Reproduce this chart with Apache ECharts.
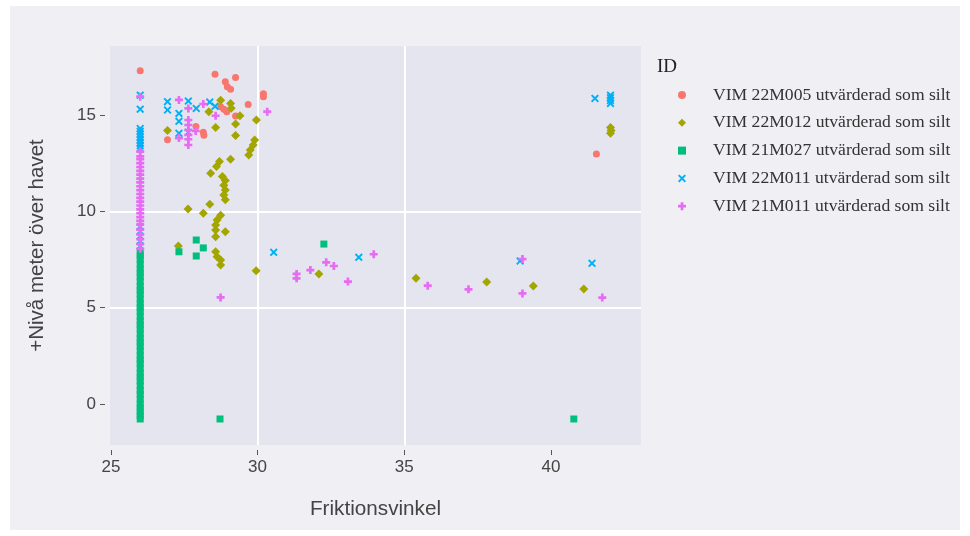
<!DOCTYPE html>
<html><head><meta charset="utf-8">
<script src="https://cdn.jsdelivr.net/npm/echarts@6/dist/echarts.min.js"></script>
<style>html,body{margin:0;padding:0;background:#fff}#c{width:970px;height:536px}</style>
</head><body><div id="c"></div>
<script>
const seriesNames = [
  'VIM 22M005 utvärderad som silt',
  'VIM 22M012 utvärderad som silt',
  'VIM 21M027 utvärderad som silt',
  'VIM 22M011 utvärderad som silt',
  'VIM 21M011 utvärderad som silt'
];
const xTicks = [25, 30, 35, 40];
const yTicks = [0, 5, 10, 15];

const data22M005 = [
  [26.0,17.3],[28.55,17.12],[28.9,16.72],[28.97,16.47],[29.08,16.33],[29.25,16.95],
  [30.2,16.1],[30.2,15.95],[29.68,15.55],[28.74,15.43],[28.85,15.3],[28.95,15.17],
  [29.25,14.95],[27.9,14.4],[28.15,14.1],[28.17,13.95],[26.93,13.72],[41.55,12.97]
];
const data22M012 = [
  [28.74,15.77],[29.08,15.6],[29.1,15.35],[28.34,15.17],[29.4,14.96],[29.96,14.74],
  [29.25,14.53],[28.57,14.35],[29.25,13.93],[26.93,14.2],[29.9,13.7],[29.85,13.44],
  [29.75,13.18],[29.7,12.92],[29.08,12.7],[28.7,12.58],[28.6,12.32],[28.4,11.97],
  [28.8,11.8],[28.9,11.6],[28.85,11.35],[28.9,11.1],[28.85,10.85],[28.9,10.6],
  [27.63,10.12],[28.37,10.36],[28.15,9.9],[28.74,9.8],[28.62,9.55],[28.57,9.29],
  [28.57,9.03],[28.9,8.94],[28.57,8.68],[28.57,7.9],[28.62,7.64],[28.74,7.47],
  [28.74,7.21],[27.3,8.2],[29.95,6.92],[32.09,6.75],[35.4,6.52],[37.81,6.33],
  [39.4,6.12],[41.12,5.97],[42.03,14.35],[42.05,14.2],[42.03,14.05]
];
const data21M027 = [
  [26,-0.78],[26,-0.6],[26,-0.4],[26,-0.2],[26,0.0],[26,0.25],[26,0.5],[26,0.7],
  [26,0.95],[26,1.2],[26,1.4],[26,1.6],[26,1.85],[26,2.1],[26,2.3],[26,2.5],
  [26,2.75],[26,3.0],[26,3.2],[26,3.4],[26,3.65],[26,3.9],[26,4.1],[26,4.3],
  [26,4.55],[26,4.8],[26,5.0],[26,5.2],[26,5.45],[26,5.7],[26,5.9],[26,6.1],
  [26,6.35],[26,6.6],[26,6.8],[26,7.0],[26,7.25],[26,7.5],[26,7.7],[26,7.85],
  [27.32,7.9],[27.91,8.51],[28.15,8.1],[27.91,7.68],[32.26,8.3],[28.72,-0.78],[40.78,-0.78]
];
const data22M011 = [
  [26,16.03],[26,15.3],[26,14.3],[26,14.15],[26,14.0],[26,13.85],[26,13.7],[26,13.55],
  [26,13.4],[26,13.25],[26,9.2],[26,8.95],[26,8.7],[26,8.45],[26,8.2],
  [26.93,15.69],[26.93,15.26],[27.32,15.08],[27.32,14.67],[27.32,14.05],[27.64,15.72],
  [27.64,14.1],[27.91,15.34],[28.37,15.67],[28.55,15.45],[30.55,7.87],[33.45,7.61],
  [38.95,7.42],[41.4,7.3],[41.5,15.86],[42.03,16.03],[42.03,15.9],[42.03,15.75],[42.03,15.6]
];
const data21M011 = [
  [26,15.95],[26,13.1],[26,12.85],[26,12.7],[26,12.5],[26,12.3],[26,12.1],[26,11.9],
  [26,11.7],[26,11.5],[26,11.3],[26,11.1],[26,10.9],[26,10.7],[26,10.5],[26,10.3],
  [26,10.1],[26,9.9],[26,9.7],[26,9.5],[26,9.3],[26,9.05],[26,8.8],[26,8.55],
  [26,8.3],[26,8.05],
  [27.32,15.78],[27.64,15.34],[28.15,15.57],[28.57,14.96],[27.64,14.74],[27.64,14.48],
  [27.64,14.22],[27.64,13.96],[27.64,13.74],[27.64,13.44],[27.89,14.17],[27.32,13.8],
  [30.33,15.17],[28.74,5.53],[31.33,6.75],[31.33,6.52],[31.8,6.95],[32.34,7.35],
  [32.6,7.16],[33.08,6.35],[33.96,7.77],[35.8,6.14],[37.19,5.95],[39.03,7.52],
  [39.03,5.74],[41.75,5.52]
];

const colors = ['#F8766D', '#A3A500', '#00BF7D', '#00B0F6', '#E76BF3'];
const crossPath = 'path://M-1,-3H1V-1H3V1H1V3H-1V1H-3V-1H-1Z';
const xPath = 'path://M-3,-2L-2,-3L0,-1L2,-3L3,-2L1,0L3,2L2,3L0,1L-2,3L-3,2L-1,0Z';
const symbols = ['circle', 'diamond', 'rect', xPath, crossPath];
const sizes = [7, 9, 7, 8, 8];
const allData = [data22M005, data22M012, data21M027, data22M011, data21M011];

const chart = echarts.init(document.getElementById('c'), null, {renderer: 'canvas'});
const axisFont = 'Liberation Sans';
chart.setOption({
  animation: false,
  backgroundColor: '#ffffff',
  graphic: [{
    type: 'rect', z: -10, silent: true,
    shape: {x: 10, y: 6, width: 950, height: 524},
    style: {fill: '#efeff4'}
  }],
  title: {
    text: 'ID', left: 652, top: 53,
    textStyle: {fontFamily: 'Liberation Serif', fontSize: 19, fontWeight: 'normal', color: '#222'}
  },
  legend: {
    orient: 'vertical', left: 678, top: 86, padding: 0,
    itemWidth: 8, itemHeight: 8, itemGap: 9.8,
    textStyle: {fontFamily: 'Liberation Serif', fontSize: 17.6, color: '#333', lineHeight: 18, padding: [0, 0, 0, 22]},
    data: seriesNames.map((n, i) => ({name: n, icon: symbols[i]}))
  },
  grid: {
    left: 110, top: 46, right: 329, bottom: 91,
    show: true, backgroundColor: '#e5e5f0', borderWidth: 0
  },
  xAxis: {
    type: 'value', min: 24.97, max: 43.07, splitNumber: 4, offset: 5,
    name: 'Friktionsvinkel', nameLocation: 'middle', nameGap: 49,
    nameTextStyle: {fontFamily: axisFont, fontSize: 20.7, color: '#444'},
    axisLine: {show: false, onZero: false},
    axisTick: {show: true, length: 5, customValues: xTicks, lineStyle: {color: '#555'}},
    axisLabel: {customValues: xTicks, fontFamily: axisFont, fontSize: 17, color: '#444', margin: 9},
    splitLine: {show: true, showMinLine: false, showMaxLine: false, lineStyle: {color: '#ffffff', width: 2}}
  },
  yAxis: {
    type: 'value', min: -2.13, max: 18.58, splitNumber: 4, offset: 5,
    name: '+Nivå meter över havet', nameLocation: 'middle', nameGap: 57,
    nameTextStyle: {fontFamily: axisFont, fontSize: 20.5, color: '#444'},
    axisLine: {show: false, onZero: false},
    axisTick: {show: true, length: 5, customValues: yTicks, lineStyle: {color: '#555'}},
    axisLabel: {customValues: yTicks, fontFamily: axisFont, fontSize: 17, color: '#444', margin: 9},
    splitLine: {show: true, showMinLine: false, showMaxLine: false, lineStyle: {color: '#ffffff', width: 2}}
  },
  series: seriesNames.map((n, i) => ({
    name: n, type: 'scatter', data: allData[i],
    symbol: symbols[i], symbolSize: sizes[i], symbolKeepAspect: true,
    itemStyle: {color: colors[i], opacity: 1},
    emphasis: {disabled: true}
  }))
});
</script></body></html>
